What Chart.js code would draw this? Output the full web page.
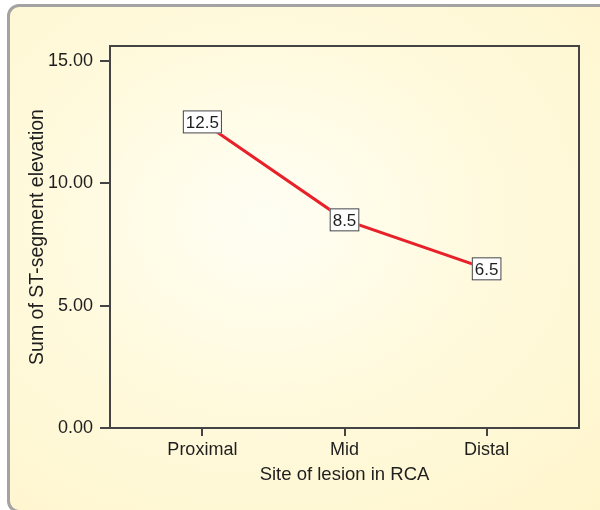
<!DOCTYPE html>
<html>
<head>
<meta charset="utf-8">
<script src="https://cdn.jsdelivr.net/npm/chart.js@4/dist/chart.umd.min.js"></script>
<style>
  html, body { margin: 0; padding: 0; background: #ffffff; }
  #wrap {
    position: relative;
    width: 600px;
    height: 510px;
    overflow: hidden;
  }
  #box {
    position: absolute;
    left: 7px;
    top: 4px;
    width: 610px;
    height: 503px;
    border: 3px solid #a3a3a3;
    border-radius: 12px;
    background: radial-gradient(ellipse at 42% 42%, #fffef4 0%, #fffadd 45%, #fff5cc 100%);
  }
  #grafico { position: absolute; left: 0; top: 0; }
</style>
</head>
<body>
<div id="wrap">
  <div id="box"></div>
  <canvas id="grafico" width="600" height="510"></canvas>
</div>
<script>
const categorias = ["Proximal", "Mid", "Distal"];
const valores = [12.5, 8.5, 6.5];
const ticksY = [0, 5, 10, 15];

document.addEventListener("DOMContentLoaded", () => {
  const ctx = document.getElementById("grafico").getContext("2d");
  const fonte = "'Liberation Sans', Arial, sans-serif";

  // caixa em volta da area do grafico + rotulos dos pontos
  const moldura = {
    id: "moldura",
    afterDatasetsDraw(chart) {
      const { ctx, chartArea } = chart;
      ctx.save();
      ctx.strokeStyle = "#444444";
      ctx.lineWidth = 2;
      ctx.strokeRect(chartArea.left, chartArea.top, chartArea.right - chartArea.left, chartArea.bottom - chartArea.top);

      const meta = chart.getDatasetMeta(0);
      ctx.font = "17px " + fonte;
      ctx.textAlign = "center";
      ctx.textBaseline = "middle";
      meta.data.forEach((p, i) => {
        const txt = valores[i].toFixed(1);
        const w = ctx.measureText(txt).width + 6;
        const h = 23;
        ctx.fillStyle = "#ffffff";
        ctx.fillRect(p.x - w / 2, p.y - h / 2, w, h);
        ctx.strokeStyle = "#444444";
        ctx.lineWidth = 1;
        ctx.strokeRect(p.x - w / 2 + 0.5, p.y - h / 2 + 0.5, w - 1, h - 1);
        ctx.fillStyle = "#1e1e1e";
        ctx.fillText(txt, p.x, p.y + 1);
      });
      ctx.restore();
    },
  };

  new Chart(ctx, {
    type: "line",
    data: {
      datasets: [
        {
          data: valores.map((v, i) => ({ x: i + 1, y: v })),
          borderColor: "#e8202a",
          borderWidth: 3,
          pointRadius: 0,
          fill: false,
        },
      ],
    },
    options: {
      responsive: false,
      animation: false,
      layout: { padding: { left: 7, top: 46, right: 21, bottom: 0 } },
      plugins: {
        legend: { display: false },
        tooltip: { enabled: false },
      },
      scales: {
        x: {
          type: "linear",
          min: 0.35,
          max: 3.65,
          afterBuildTicks: (s) => { s.ticks = categorias.map((c, i) => ({ value: i + 1 })); },
          afterFit: (s) => { s.height = 82; },
          ticks: {
            callback: (v) => categorias[v - 1],
            color: "#1e1e1e",
            font: { family: fonte, size: 18 },
            padding: 3,
            maxRotation: 0,
          },
          grid: { drawOnChartArea: false, drawTicks: true, tickLength: 8, color: "#444444", lineWidth: 2 },
          border: { display: true, color: "#444444", width: 2 },
          title: {
            display: true,
            text: "Site of lesion in RCA",
            color: "#1e1e1e",
            font: { family: fonte, size: 18.5 },
            padding: { top: 0, bottom: 24 },
          },
        },
        y: {
          min: 0,
          max: 15.6,
          afterBuildTicks: (s) => { s.ticks = ticksY.map((v) => ({ value: v })); },
          afterFit: (s) => { s.width = 103; },
          ticks: {
            callback: (v) => v.toFixed(2),
            color: "#1e1e1e",
            font: { family: fonte, size: 18 },
            padding: 7,
          },
          grid: { drawOnChartArea: false, drawTicks: true, tickLength: 10, color: "#444444", lineWidth: 2 },
          border: { display: true, color: "#444444", width: 2 },
          title: {
            display: true,
            text: "Sum of ST-segment elevation",
            color: "#1e1e1e",
            font: { family: fonte, size: 19.5 },
            padding: { top: 19, bottom: 0 },
          },
        },
      },
    },
    plugins: [moldura],
  });
});
</script>
</body>
</html>
